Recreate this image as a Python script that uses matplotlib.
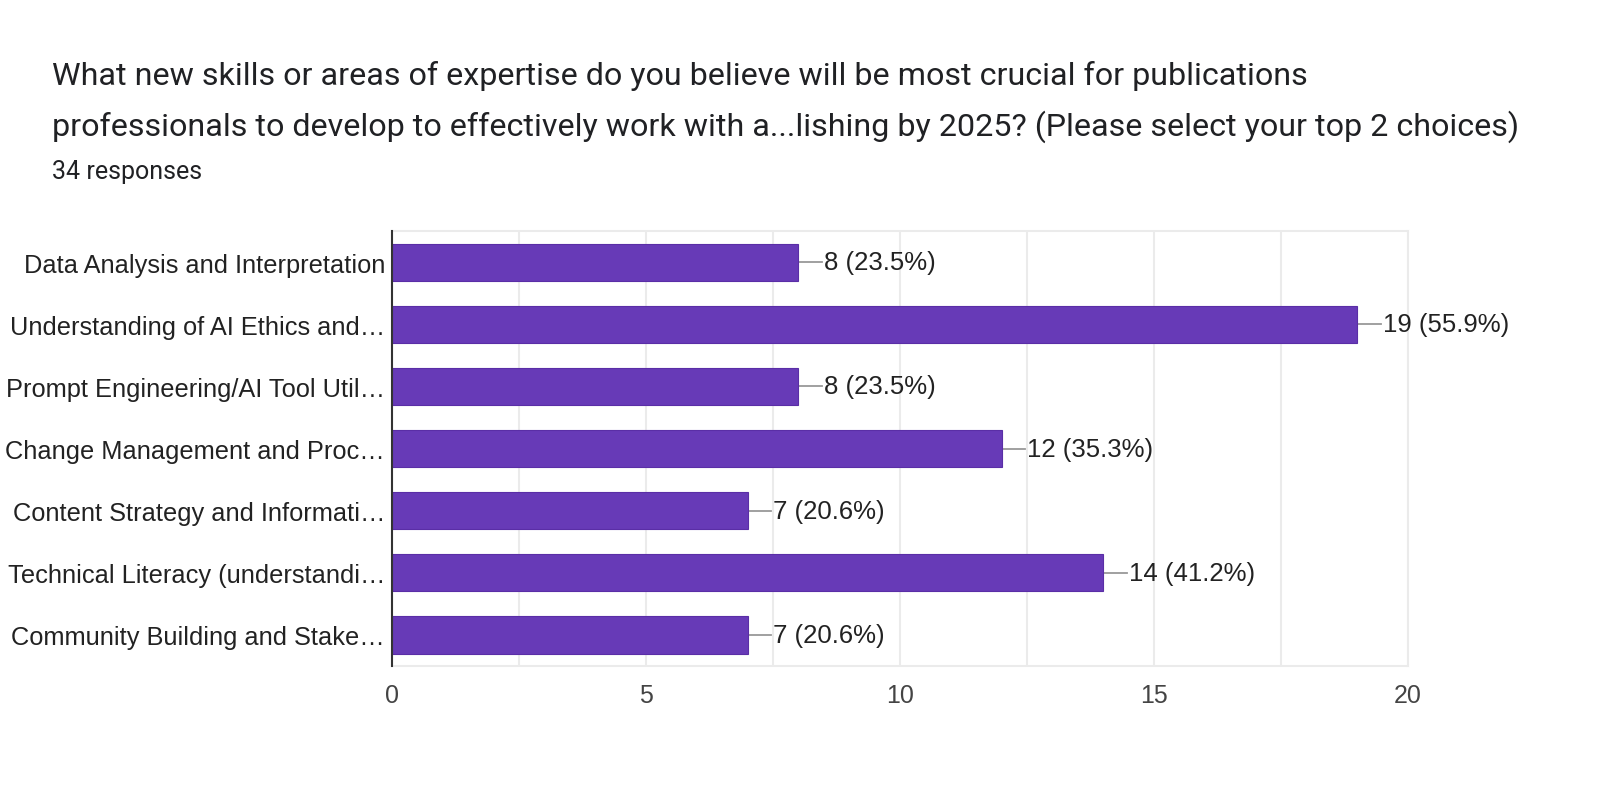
"""
Google Forms style horizontal bar chart of survey responses
"""
import matplotlib as mpl
import matplotlib.pyplot as plt

mpl.rcParams['font.family'] = ['Liberation Sans', 'DejaVu Sans']

title_lines = [
    "What new skills or areas of expertise do you believe will be most crucial for publications",
    "professionals to develop to effectively work with a...lishing by 2025? (Please select your top 2 choices)",
]
subtitle = "34 responses"

categories = [
    "Data Analysis and Interpretation",
    "Understanding of AI Ethics and\u2026",
    "Prompt Engineering/AI Tool Util\u2026",
    "Change Management and Proc\u2026",
    "Content Strategy and Informati\u2026",
    "Technical Literacy (understandi\u2026",
    "Community Building and Stake\u2026",
]
counts = [8, 19, 8, 12, 7, 14, 7]
percents = [23.5, 55.9, 23.5, 35.3, 20.6, 41.2, 20.6]
xticks = [0, 5, 10, 15, 20]

bar_color = '#673ab7'
grid_color = '#ebebeb'

fig = plt.figure(figsize=(16, 8.12), dpi=100)
ax = fig.add_axes([0.245, 0.1786, 0.635, 0.5354])

ypos = list(range(len(categories)))
ax.barh(ypos, counts, height=0.6, color=bar_color, edgecolor='#5a2ea6',
        linewidth=0.8, zorder=3)

# leader line + value label at the end of each bar
for y, c, p in zip(ypos, counts, percents):
    ax.plot([c, c + 0.47], [y, y], color='#999999', linewidth=1.3, zorder=2)
    ax.text(c + 0.5, y, f"{c} ({p}%)", va='center', ha='left',
            fontsize=18.5, color='#222222')

ax.set_xlim(0, 20)
ax.set_ylim(len(categories) - 0.5, -0.5)
ax.set_yticks(ypos)
ax.set_yticklabels(categories, fontsize=18.3, color='#222222')
ax.set_xticks(xticks)
ax.set_xticklabels([str(t) for t in xticks], fontsize=18, color='#444444')
ax.set_xticks([2.5 * i for i in range(9)], minor=True)
ax.tick_params(axis='y', length=0, pad=5)
ax.tick_params(axis='x', which='both', length=0, pad=12)

ax.grid(axis='x', which='both', color=grid_color, linewidth=1.5, zorder=0)
for side in ['top', 'right', 'bottom']:
    ax.spines[side].set_color(grid_color)
    ax.spines[side].set_linewidth(1.5)
ax.spines['left'].set_color('#333333')
ax.spines['left'].set_linewidth(1.5)
ax.spines['left'].set_zorder(4)

# title block
title_font = ['Roboto', 'DejaVu Sans']
fig.text(52 / 1600, 1 - 76 / 812, title_lines[0], fontsize=23.2,
         family=title_font, color='#202124', va='center')
fig.text(52 / 1600, 1 - 127 / 812, title_lines[1], fontsize=23.2,
         family=title_font, color='#202124', va='center')
fig.text(52 / 1600, 1 - 172 / 812, subtitle, fontsize=18,
         family=title_font, color='#202124', va='center')

fig.savefig('out.png', dpi=100, facecolor='white')
